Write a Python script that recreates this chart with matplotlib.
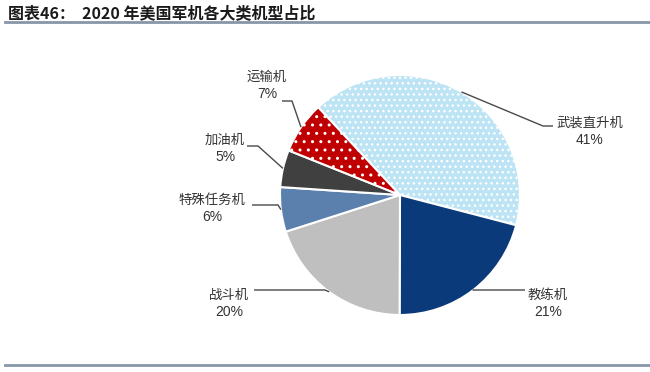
import numpy as np
import matplotlib
matplotlib.use('Agg')
import matplotlib.pyplot as plt

'''DATA'''
jenis = ["武装直升机", "教练机", "战斗机", "特殊任务机", "加油机", "运输机"]
persen = [41, 21, 20, 6, 5, 7]
warna = ['#BDE4F4', '#0B3A7A', '#BFBFBF', '#5B80AE', '#404040', '#C00000']
pola = ['...', None, None, None, None, '..']

judul = "图表46：  2020 年美国军机各大类机型占比"

# posisi label (pixel, y dari atas): teks, ujung garis, siku garis, tinggi garis
teks_xy = [(590, 123), (548, 295), (229, 295), (212, 200), (225, 140), (267, 77)]
garis_ujung = [553, 525, 254, 252, 247, 282]
garis_siku = [543, 473, 325, 278, 258, 292]
garis_y = [126, 290, 290, 205, 146, 101]

plt.rcParams['font.family'] = ['Noto Sans CJK SC', 'DejaVu Sans']
plt.rcParams['hatch.color'] = 'white'
plt.rcParams['hatch.linewidth'] = 1.0

W, H = 650, 372
fig = plt.figure(figsize=(W / 100, H / 100), dpi=100, facecolor='white')
ax = fig.add_axes([0, 0, 1, 1])

cx, cy, R = 400, H - 195, 120
start = 133
wedges, _ = ax.pie(persen, colors=warna, startangle=start, counterclock=False,
                   center=(cx, cy), radius=R,
                   wedgeprops=dict(edgecolor='white', linewidth=1.5))
for w, h in zip(wedges, pola):
    if h:
        w.set_hatch(h)

ax.set_xlim(0, W)
ax.set_ylim(0, H)
ax.set_aspect('equal')
ax.axis('off')

# garis penunjuk + label
total = sum(persen)
sudut = start
warna_teks = '#333333'
for i, (nama, p) in enumerate(zip(jenis, persen)):
    lebar = 360 * p / total
    tengah = np.deg2rad(sudut - lebar / 2)
    sudut -= lebar
    ax_ = cx + R * np.cos(tengah)
    ay_ = cy + R * np.sin(tengah)
    ly = H - garis_y[i]
    ax.plot([ax_, garis_siku[i], garis_ujung[i]], [ay_, ly, ly],
            color='#4a4a4a', lw=1.0, solid_capstyle='butt')
    tx, ty = teks_xy[i]
    ax.text(tx, H - ty, nama, ha='center', va='center', fontsize=9.6,
            color=warna_teks)
    ax.text(tx, H - ty - 17, f"{p}%", ha='center', va='center', fontsize=10,
            color=warna_teks, family=['Liberation Sans', 'DejaVu Sans'])

# judul dan garis
ax.text(8, H - 13, judul, ha='left', va='center', fontsize=11.5,
        fontweight='bold', color='#1a1a1a')
ax.plot([5, 650], [H - 22, H - 22], color='#8796A8', lw=2)
ax.plot([5, 650], [H - 365, H - 365], color='#8796A8', lw=2)

fig.savefig('out.png', dpi=100, facecolor='white')
